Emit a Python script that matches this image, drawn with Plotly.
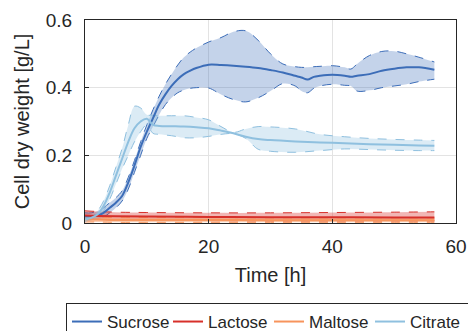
import plotly.graph_objects as go

# ---- data ----
series_names = ["Sucrose", "Lactose", "Maltose", "Citrate"]

t_suc = [0, 1, 2, 3, 4, 5, 6, 7, 8, 9, 10, 11, 12, 13, 14, 15, 16, 17, 18, 20, 22, 24, 26, 28, 30,
         32, 34, 35, 36, 37, 38, 40, 42, 43, 44, 46, 48, 50, 52, 54, 56.5]
suc_mean = [0.02, 0.02, 0.022, 0.03, 0.045, 0.06, 0.08, 0.12, 0.17, 0.225, 0.27, 0.31, 0.35, 0.38,
            0.405, 0.425, 0.44, 0.45, 0.458, 0.468, 0.467, 0.465, 0.462, 0.458, 0.452, 0.445, 0.435,
            0.43, 0.424, 0.432, 0.435, 0.438, 0.435, 0.432, 0.435, 0.44, 0.45, 0.456, 0.46, 0.46, 0.453]
suc_upper = [0.03, 0.03, 0.035, 0.045, 0.06, 0.075, 0.095, 0.135, 0.185, 0.24, 0.29, 0.335, 0.375,
             0.41, 0.44, 0.467, 0.49, 0.505, 0.517, 0.535, 0.548, 0.565, 0.568, 0.54, 0.5, 0.47,
             0.462, 0.46, 0.46, 0.462, 0.463, 0.465, 0.46, 0.455, 0.47, 0.495, 0.507, 0.508, 0.5,
             0.49, 0.476]
suc_lower = [0.01, 0.01, 0.012, 0.018, 0.03, 0.045, 0.065, 0.1, 0.15, 0.2, 0.25, 0.285, 0.32, 0.35,
             0.37, 0.385, 0.393, 0.398, 0.4, 0.399, 0.38, 0.365, 0.358, 0.37, 0.39, 0.412, 0.405,
             0.39, 0.385, 0.398, 0.405, 0.41, 0.407, 0.405, 0.39, 0.392, 0.4, 0.405, 0.41, 0.418, 0.425]

t_lac = [0, 2, 5, 10, 20, 30, 40, 50, 56.5]
lac_mean = [0.022, 0.021, 0.02, 0.019, 0.018, 0.017, 0.017, 0.016, 0.016]
lac_upper = [0.036, 0.034, 0.032, 0.031, 0.03, 0.03, 0.031, 0.032, 0.033]
lac_lower = [0.012, 0.011, 0.009, 0.008, 0.007, 0.006, 0.006, 0.006, 0.006]

t_mal = [0, 2, 5, 10, 20, 30, 40, 50, 56.5]
mal_mean = [0.01, 0.01, 0.009, 0.009, 0.009, 0.008, 0.008, 0.008, 0.008]
mal_upper = [0.018, 0.017, 0.016, 0.016, 0.016, 0.015, 0.015, 0.015, 0.015]
mal_lower = [0.003, 0.003, 0.002, 0.002, 0.002, 0.002, 0.002, 0.002, 0.002]

t_cit = [0, 1, 2, 3, 4, 5, 6, 7, 8, 9, 10, 11, 12, 14, 16, 18, 20, 22, 24, 26, 28, 30, 34, 38,
         42, 46, 50, 54, 56.5]
cit_mean = [0.01, 0.015, 0.025, 0.05, 0.09, 0.14, 0.19, 0.24, 0.28, 0.3, 0.308, 0.29, 0.287, 0.286,
            0.285, 0.283, 0.28, 0.273, 0.265, 0.255, 0.248, 0.245, 0.241, 0.238, 0.236, 0.233,
            0.231, 0.229, 0.228]
cit_upper = [0.015, 0.02, 0.035, 0.065, 0.11, 0.165, 0.22, 0.29, 0.345, 0.34, 0.32, 0.318, 0.317,
             0.317, 0.317, 0.312, 0.305, 0.285, 0.268, 0.278, 0.285, 0.284, 0.278, 0.262, 0.255,
             0.25, 0.247, 0.245, 0.244]
cit_lower = [0.005, 0.01, 0.015, 0.035, 0.07, 0.115, 0.16, 0.2, 0.24, 0.27, 0.29, 0.265, 0.262,
             0.258, 0.252, 0.252, 0.256, 0.262, 0.264, 0.25, 0.218, 0.212, 0.209, 0.214, 0.219,
             0.217, 0.215, 0.214, 0.214]

x_ticks = [0, 20, 40, 60]
y_ticks = [0, 0.2, 0.4, 0.6]
y_ticktext = ["0", "0.2", "0.4", "0.6"]

# ---- styling ----
line_colors = ["#3c6db8", "#d7302a", "#f7945c", "#8fc0df"]
fill_colors = ["rgba(60,109,184,0.30)", "rgba(215,48,42,0.35)",
               "rgba(247,148,92,0.45)", "rgba(143,192,223,0.32)"]

data = [
    (t_suc, suc_mean, suc_lower, suc_upper),
    (t_lac, lac_mean, lac_lower, lac_upper),
    (t_mal, mal_mean, mal_lower, mal_upper),
    (t_cit, cit_mean, cit_lower, cit_upper),
]

fig = go.Figure()
for i, (name, (t, m, lo, up)) in enumerate(zip(series_names, data)):
    fig.add_trace(go.Scatter(x=t, y=lo, mode="lines", showlegend=False, hoverinfo="skip",
                             line=dict(color=line_colors[i], width=1, dash="dash", shape="spline")))
    fig.add_trace(go.Scatter(x=t, y=up, mode="lines", showlegend=False, hoverinfo="skip",
                             fill="tonexty", fillcolor=fill_colors[i],
                             line=dict(color=line_colors[i], width=1, dash="dash", shape="spline")))
for i, (name, (t, m, lo, up)) in enumerate(zip(series_names, data)):
    fig.add_trace(go.Scatter(x=t, y=m, mode="lines", name=name,
                             line=dict(color=line_colors[i], width=2, shape="spline")))

axis_common = dict(showline=True, linecolor="#262626", linewidth=1, mirror=True,
                   showgrid=True, gridcolor="#e3e3e3", gridwidth=1,
                   ticks="inside", ticklen=4, tickcolor="#262626",
                   zeroline=False, tickfont=dict(size=19, color="#262626"))

fig.update_xaxes(range=[0, 60], tickvals=x_ticks, ticklabelstandoff=6,
                 title=dict(text="Time [h]", font=dict(size=20, color="#262626"), standoff=12),
                 **axis_common)
fig.update_yaxes(range=[0, 0.6], tickvals=y_ticks, ticktext=y_ticktext, ticklabelstandoff=8,
                 title=dict(text="Cell dry weight [g/L]", font=dict(size=20, color="#262626"), standoff=10),
                 **axis_common)

fig.update_layout(
    width=468, height=331,
    margin=dict(l=85, r=12, t=20, b=108, autoexpand=False),
    paper_bgcolor="white", plot_bgcolor="white",
    font=dict(family="Liberation Sans, Arial, sans-serif", color="#262626"),
    legend=dict(orientation="h", x=-0.0512, xanchor="left", y=-0.394, yanchor="top",
                bordercolor="#262626", borderwidth=1, font=dict(size=17),
                itemwidth=30, traceorder="normal", entrywidth=56, entrywidthmode="pixels"),
)

fig.write_html("out.html", config={"displayModeBar": False},
               post_script="document.body.style.margin='0';document.body.style.overflow='hidden';")
